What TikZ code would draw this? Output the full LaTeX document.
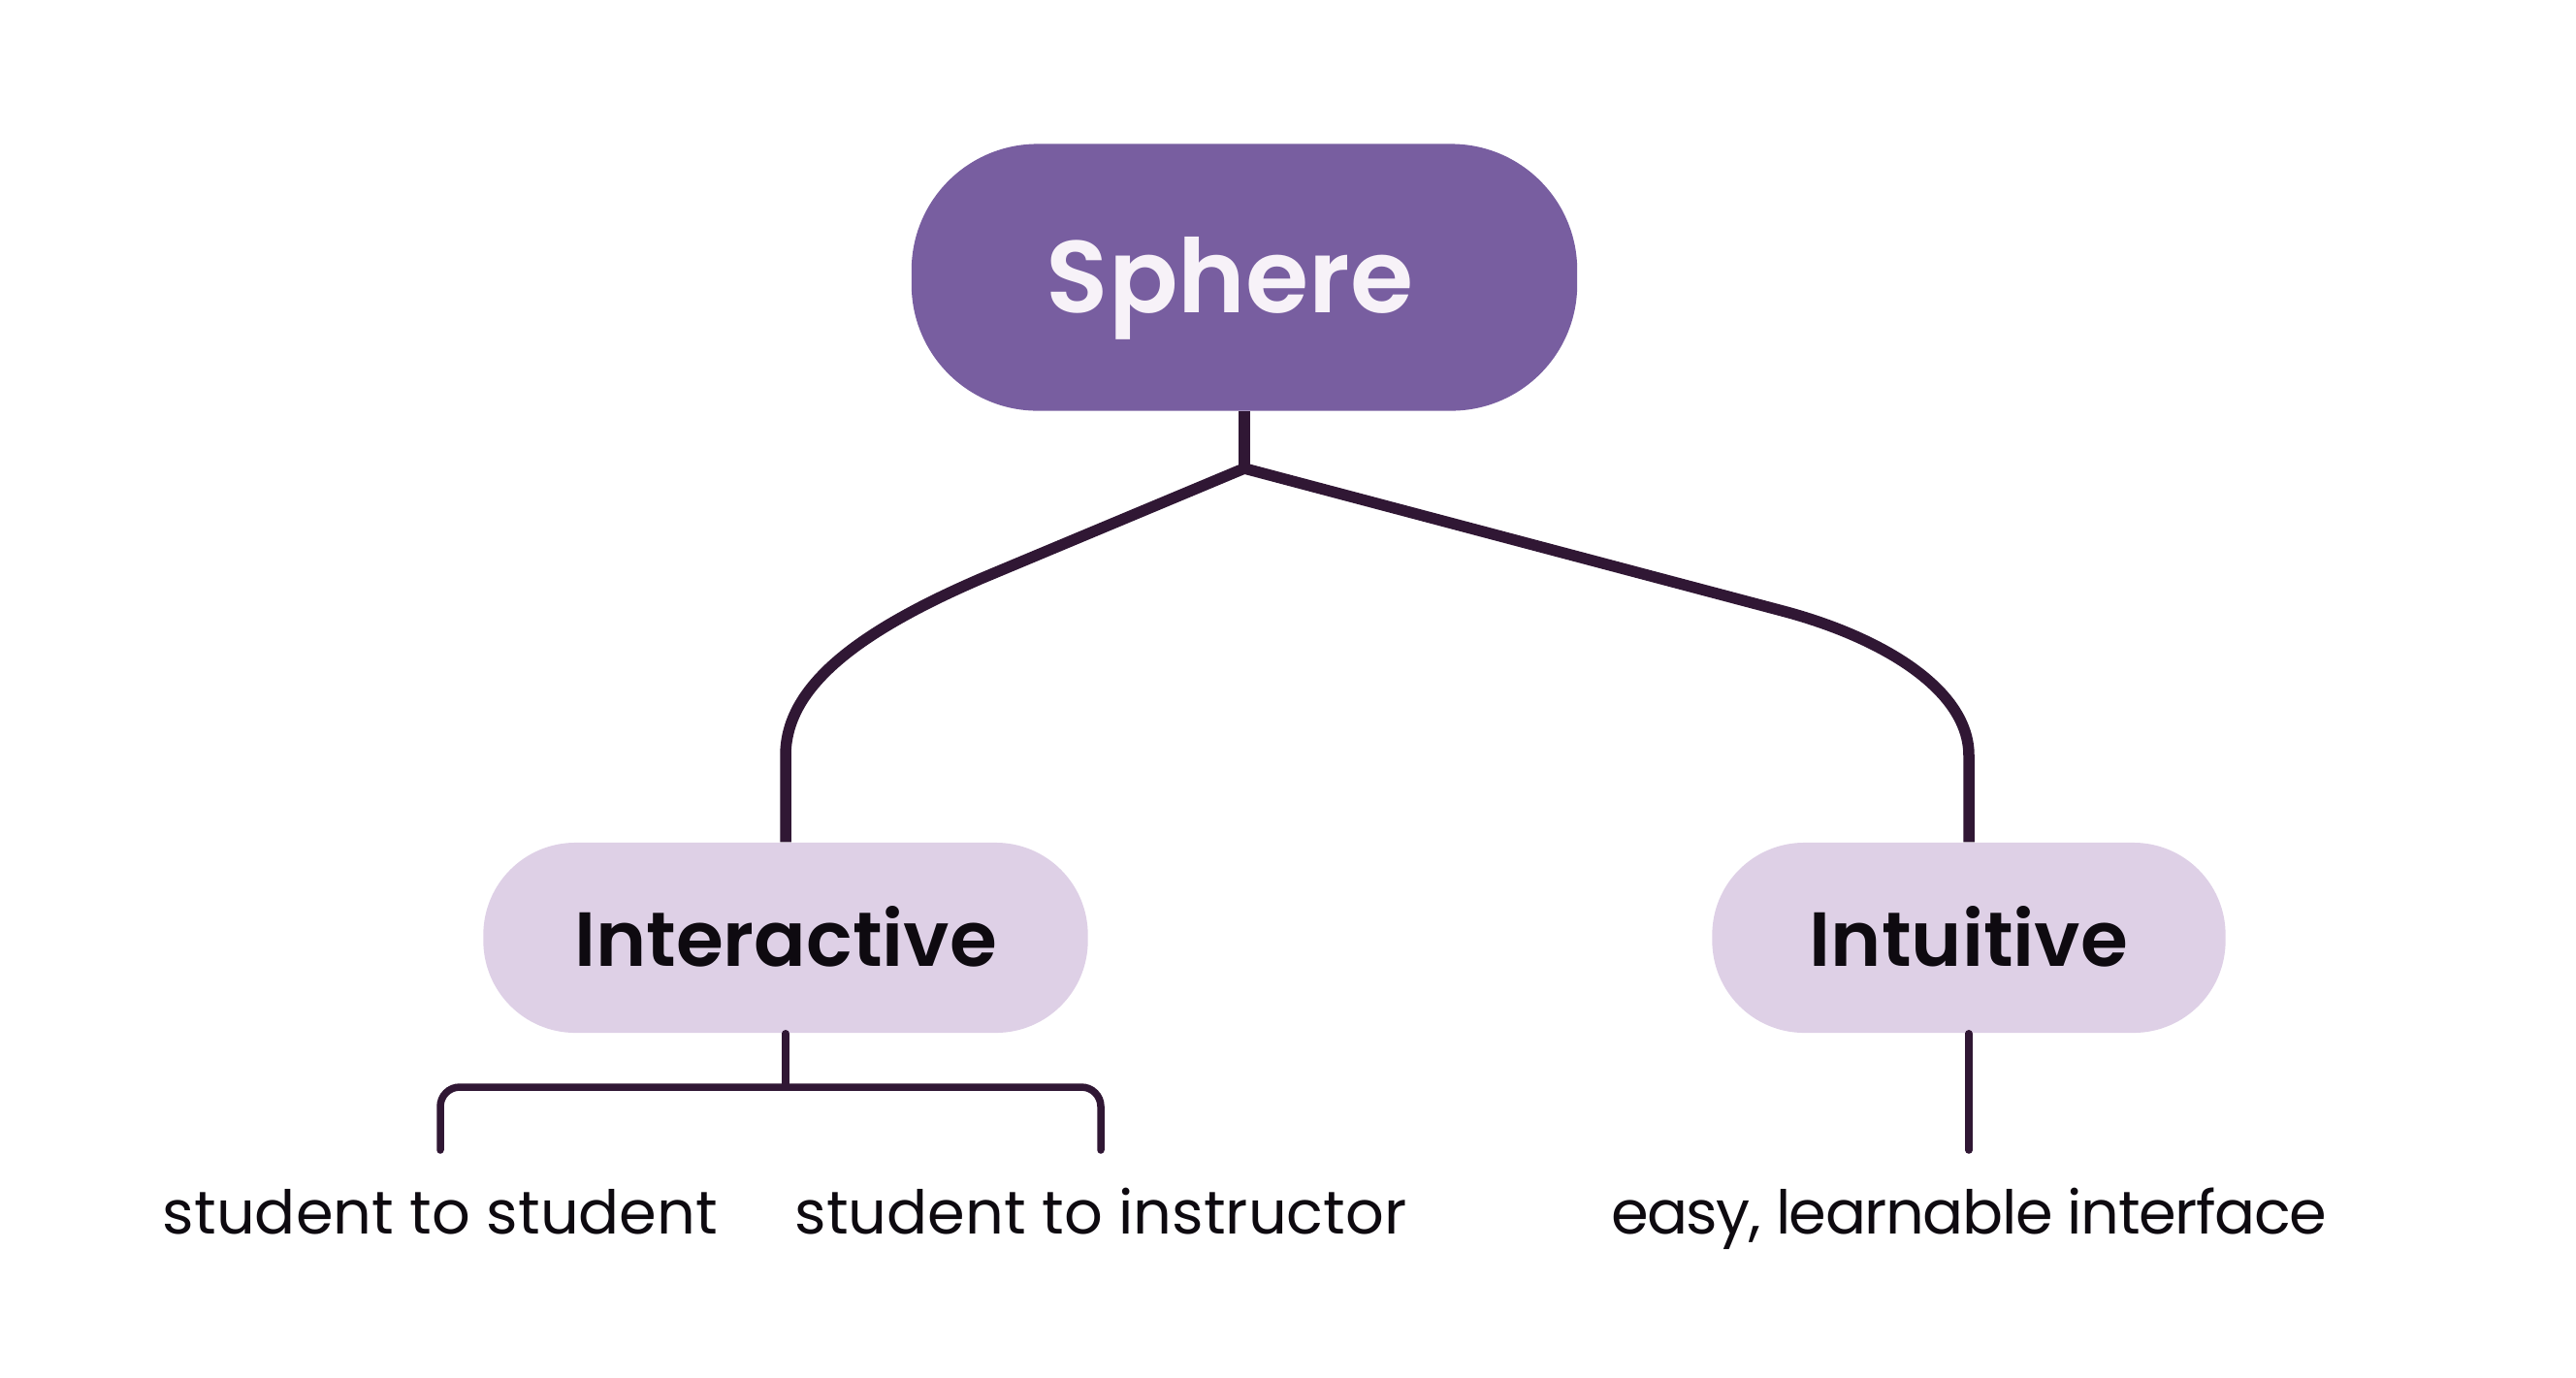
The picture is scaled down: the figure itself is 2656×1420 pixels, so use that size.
\documentclass[tikz,border=0pt]{standalone}
\usepackage{fontspec}
\setmainfont{Poppins}[BoldFont={Poppins SemiBold}]
\definecolor{topfill}{HTML}{785EA0}
\definecolor{subfill}{HTML}{DED0E6}
\definecolor{linec}{HTML}{301734}
\definecolor{toptext}{HTML}{F7F2F8}
\definecolor{txt}{HTML}{0E0A10}
\begin{document}
\begin{tikzpicture}[x=0.01cm,y=-0.01cm,
  topnode/.style={fill=topfill,text=toptext,rounded corners=1.3cm,minimum width=6.86cm,minimum height=2.75cm,font=\fontsize{30}{36}\selectfont\bfseries,inner sep=0pt,text height=0pt,text depth=0pt},
  subnode/.style={fill=subfill,text=txt,rounded corners=0.95cm,minimum height=1.96cm,font=\fontsize{22.5}{28}\selectfont\bfseries,inner sep=0pt,text height=0pt,text depth=0pt},
  leaf/.style={text=txt,font=\fontsize{17.7}{20}\selectfont,inner sep=0pt,anchor=base},
  conn/.style={draw=linec,line width=0.115cm,line join=miter},
  thin/.style={draw=linec,line width=0.075cm,line cap=round}]
\useasboundingbox (0,0) rectangle (2656,1420);
\node[topnode] (sphere) at (1283,286) {\raisebox{-0.36cm}{\makebox[0pt]{Sphere\hspace{0.3cm}}}};
\node[subnode,minimum width=6.23cm] (inter) at (810,967) {\raisebox{-0.29cm}{\makebox[0pt]{Interactive}}};
\node[subnode,minimum width=5.29cm] (intu) at (2030,967) {\raisebox{-0.29cm}{\makebox[0pt]{Intuitive}}};
\coordinate (j) at (1283,483);
\coordinate (b1) at (454,1186);
\coordinate (b2) at (1135,1186);
\coordinate (bm) at (810,1121);
\coordinate (b3) at (2030,1186);
\node[leaf] (l1) at (454,1272) {student to student};
\node[leaf] (l2) at (1135,1272) {student to instructor};
\node[leaf,font=\fontsize{17.7}{20}\selectfont\addfontfeature{LetterSpace=-2.3}] (l3) at (2030,1272) {easy, learnable interface};
\draw[conn] (sphere.south) -- (j);
\draw[conn] (j) -- (1013,596) .. controls (878,654) and (810,711) .. (810,779) -- (inter.north);
\draw[conn] (j) -- (1838,630) .. controls (1940,657) and (2030,711) .. (2030,779) -- (intu.north);
\draw[thin] (inter.south) -- (bm);
\draw[thin,rounded corners=0.2cm] (b1) |- (bm) -| (b2);
\draw[thin] (intu.south) -- (b3);
\end{tikzpicture}
\end{document}
